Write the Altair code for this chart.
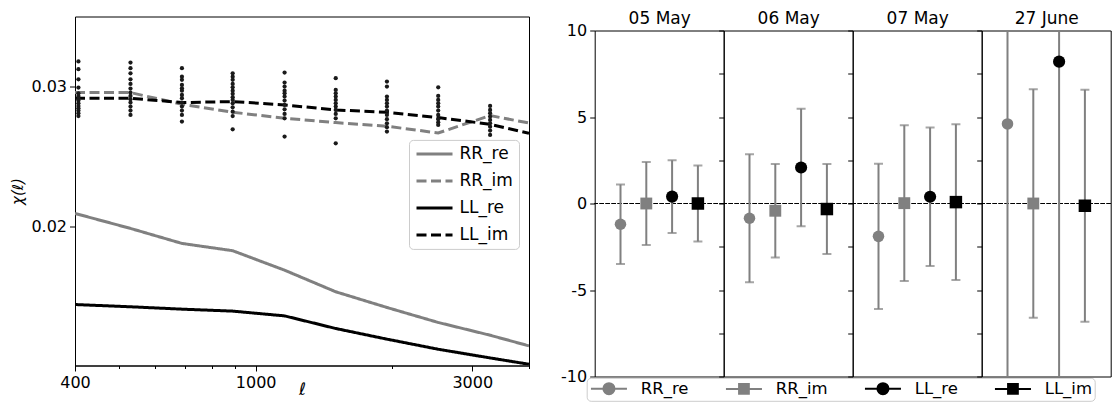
import altair as alt
import pandas as pd

FONT = "DejaVu Sans"

# ---------------- left panel data ----------------
series = ["RR_re", "RR_im", "LL_re", "LL_im"]
series_colors = ["#808080", "#808080", "#000000", "#000000"]

ell_line = [400, 530, 688, 890, 1158, 1501, 1946, 2524, 3284, 4000]
chi_rr_re = [0.02095, 0.01988, 0.01881, 0.01829, 0.01690, 0.01536, 0.01424, 0.01317, 0.01226, 0.01150]
chi_rr_im = [0.02957, 0.02957, 0.02874, 0.02817, 0.02774, 0.02743, 0.02717, 0.02669, 0.02793, 0.02740]
chi_ll_re = [0.01445, 0.01429, 0.01412, 0.01398, 0.01364, 0.01274, 0.01198, 0.01126, 0.01064, 0.01019]
chi_ll_im = [0.02917, 0.02917, 0.02886, 0.02893, 0.02869, 0.02833, 0.02817, 0.02779, 0.02731, 0.02667]

dot_ell = [407, 530, 688, 890, 1158, 1501, 1946, 2524, 3284]
dots_1 = [0.03179, 0.03124, 0.03052, 0.02993, 0.02952, 0.02933, 0.02917, 0.02900, 0.02881, 0.02862, 0.02845, 0.02829, 0.02810, 0.02790]
dots_2 = [0.03171, 0.03131, 0.03095, 0.03052, 0.03019, 0.02986, 0.02957, 0.02933, 0.02910, 0.02886, 0.02857, 0.02829, 0.02798]
dots_3 = [0.03131, 0.03071, 0.03048, 0.03012, 0.02988, 0.02971, 0.02940, 0.02917, 0.02886, 0.02857, 0.02829, 0.02798, 0.02750]
dots_4 = [0.03095, 0.03071, 0.03048, 0.03019, 0.02995, 0.02971, 0.02948, 0.02924, 0.02905, 0.02881, 0.02852, 0.02821, 0.02790, 0.02695]
dots_5 = [0.03100, 0.03029, 0.03000, 0.02971, 0.02952, 0.02929, 0.02900, 0.02869, 0.02838, 0.02805, 0.02774, 0.02643]
dots_6 = [0.03060, 0.02976, 0.02952, 0.02929, 0.02905, 0.02881, 0.02857, 0.02833, 0.02805, 0.02774, 0.02595]
dots_7 = [0.03036, 0.03000, 0.02929, 0.02905, 0.02881, 0.02857, 0.02829, 0.02798, 0.02767, 0.02738, 0.02710, 0.02679]
dots_8 = [0.02995, 0.02933, 0.02905, 0.02881, 0.02857, 0.02829, 0.02798, 0.02767, 0.02745, 0.02726]
dots_9 = [0.02862, 0.02833, 0.02810, 0.02786, 0.02762, 0.02738, 0.02714, 0.02686, 0.02655]
dot_columns = [dots_1, dots_2, dots_3, dots_4, dots_5, dots_6, dots_7, dots_8, dots_9]

# ---------------- right panel data ----------------
dates = ["05 May", "06 May", "07 May", "27 June"]
rr_re_val = [-1.2, -0.85, -1.9, 4.6]
rr_re_err = [2.3, 3.7, 4.2, 16.0]
rr_im_val = [0.0, -0.42, 0.02, 0.0]
rr_im_err = [2.4, 2.7, 4.5, 6.6]
ll_re_val = [0.4, 2.08, 0.39, 8.2]
ll_re_err = [2.1, 3.4, 4.0, 19.0]
ll_im_val = [0.0, -0.32, 0.08, -0.13]
ll_im_err = [2.2, 2.6, 4.5, 6.7]
series_pos = [1, 2, 3, 4]

# ---------------- tables ----------------
line_rows = []
for s, vals in zip(series, [chi_rr_re, chi_rr_im, chi_ll_re, chi_ll_im]):
    for l, v in zip(ell_line, vals):
        line_rows.append({"ell": l, "chi": v, "series": s})
line_df = pd.DataFrame(line_rows)

dot_rows = []
for l, col in zip(dot_ell, dot_columns):
    for v in col:
        dot_rows.append({"ell": l, "chi": v})
dot_df = pd.DataFrame(dot_rows)

panel_rows = []
for s, p, vals, errs in zip(series, series_pos,
                            [rr_re_val, rr_im_val, ll_re_val, ll_im_val],
                            [rr_re_err, rr_im_err, ll_re_err, ll_im_err]):
    for d, v, e in zip(dates, vals, errs):
        panel_rows.append({"date": d, "ser": s, "pos": p, "val": v, "lo": v - e, "hi": v + e})
panel_df = pd.DataFrame(panel_rows)

# ---------------- left chart ----------------
line_sym = "M-1,0L4.54,0"
left_legend = alt.Legend(
    orient="none", legendX=334, legendY=123.4, title=None,
    symbolType=line_sym, symbolSize=169, symbolStrokeWidth=3,
    labelFontSize=17, labelFont=FONT, labelOffset=28, rowPadding=9,
    padding=5.5, strokeColor="#cccccc", fillColor="white", cornerRadius=4,
)

xscale_l = alt.Scale(type="log", domain=[400, 4000], nice=False)
yscale_l = alt.Scale(domain=[0.0101, 0.035], nice=False, zero=False)

x_axis_l = alt.Axis(
    values=[400, 500, 600, 700, 800, 900, 1000, 2000, 3000, 4000],
    labelExpr="indexof([400, 1000, 3000], datum.value) >= 0 ? '' + datum.value : ''",
    tickSize={"condition": {"test": "indexof([400, 1000, 3000], datum.value) >= 0", "value": 5.5}, "value": 3},
    labelFlush=False, labelOverlap=False, labelPadding=3, grid=False,
    title="ℓ", titleFontStyle="italic", titleFontSize=17, titleFontWeight="normal",
    titleY=29, titleBaseline="alphabetic",
)
y_axis_l = alt.Axis(
    values=[0.02, 0.03], format=".2f", tickSize=5.5, labelPadding=3, grid=False,
    title="χ(ℓ)", titleFontStyle="italic", titleFontSize=15, titleFontWeight="normal", titlePadding=5,
)

lines = alt.Chart(line_df).mark_line(strokeWidth=3, clip=True).encode(
    x=alt.X("ell:Q", scale=xscale_l, axis=x_axis_l),
    y=alt.Y("chi:Q", scale=yscale_l, axis=y_axis_l),
    color=alt.Color("series:N", scale=alt.Scale(domain=series, range=series_colors), legend=left_legend),
    strokeDash=alt.StrokeDash("series:N", scale=alt.Scale(domain=series, range=[[1, 0], [10, 4.5], [1, 0], [10, 4.5]]), legend=left_legend),
    order=alt.Order("ell:Q"),
)
dots = alt.Chart(dot_df).mark_circle(size=18, color="#1a1a1a", opacity=1).encode(
    x=alt.X("ell:Q", scale=xscale_l, axis=x_axis_l),
    y=alt.Y("chi:Q", scale=yscale_l, axis=y_axis_l),
)
left = alt.layer(lines, dots).properties(width=454, height=349)

# ---------------- right panels ----------------
circ_path = "M-1,0L4.54,0M2.62,0A0.85,0.85,0,1,1,0.92,0A0.85,0.85,0,1,1,2.62,0Z"
sq_path = "M-1,0L4.54,0M1.02,-0.75L2.52,-0.75L2.52,0.75L1.02,0.75Z"

right_legend = alt.Legend(
    orient="none", legendX=-8, legendY=347.3, direction="horizontal", columns=4, title=None,
    symbolSize=169, symbolStrokeWidth=2, labelFontSize=16.5, labelFont=FONT,
    labelOffset=35, columnPadding=32, padding=2.5,
    strokeColor="#cccccc", fillColor="white", cornerRadius=4,
)

xscale_r = alt.Scale(domain=[0, 5], nice=False, zero=False)
yscale_r = alt.Scale(domain=[-10, 10], nice=False, zero=False)
PANEL_W = 129.0


def make_panel(i, date):
    sub = panel_df[panel_df["date"] == date]
    base = alt.Chart(sub)
    if i == 0:
        yaxis = alt.Axis(values=[-10, -5, 0, 5, 10], labelExpr="'' + datum.value", tickSize=5,
                         labelPadding=3, title=None, domain=False, grid=False)
    else:
        yaxis = alt.Axis(values=[-10, -7.5, -5, -2.5, 0, 2.5, 5, 7.5, 10], labels=False, tickSize=5,
                         title=None, domain=False, grid=False)
    xaxis = alt.Axis(orient="top", title=date, labels=False, ticks=False, domain=False, grid=False,
                     titleFontSize=17, titleFont=FONT, titleFontWeight="normal", titlePadding=3)
    xenc = alt.X("pos:Q", scale=xscale_r, axis=xaxis)
    zero = base.mark_rule(color="black", strokeDash=[4, 2], strokeWidth=1.2).encode(
        y=alt.Y(datum=0, scale=yscale_r, axis=yaxis)
    )
    bars = base.mark_rule(color="#808080", strokeWidth=2, clip=True).encode(
        x=xenc, y=alt.Y("lo:Q", scale=yscale_r, axis=yaxis), y2="hi:Q"
    )
    cap_hi = base.mark_tick(color="#808080", thickness=2, size=9, orient="horizontal", clip=True).encode(
        x=xenc, y=alt.Y("hi:Q", scale=yscale_r, axis=yaxis)
    )
    cap_lo = base.mark_tick(color="#808080", thickness=2, size=9, orient="horizontal", clip=True).encode(
        x=xenc, y=alt.Y("lo:Q", scale=yscale_r, axis=yaxis)
    )
    pts = base.mark_point(filled=True, opacity=1, strokeWidth=0).encode(
        x=xenc, y=alt.Y("val:Q", scale=yscale_r, axis=yaxis),
        color=alt.Color("ser:N", scale=alt.Scale(domain=series, range=series_colors), legend=None),
        shape=alt.Shape("ser:N", scale=alt.Scale(domain=series, range=["circle", "square", "circle", "square"]), legend=None),
        size=alt.Size("ser:O", scale=alt.Scale(domain=series, range=[133, 156, 133, 156]), legend=None),
    )
    layers = [zero, bars, cap_hi, cap_lo, pts]
    if i == 0:
        leg_df = pd.DataFrame({"lg": series})
        leg_layer = alt.Chart(leg_df).transform_filter("false").mark_point(
            filled=True, opacity=1, strokeWidth=2, size=169
        ).encode(
            fill=alt.Fill("lg:N", scale=alt.Scale(domain=series, range=series_colors), legend=right_legend),
            stroke=alt.Stroke("lg:N", scale=alt.Scale(domain=series, range=series_colors), legend=right_legend),
            shape=alt.Shape("lg:N", scale=alt.Scale(domain=series, range=[circ_path, sq_path, circ_path, sq_path]), legend=right_legend),
        )
        layers.append(leg_layer)
    return alt.layer(*layers).resolve_scale(
        color="independent", shape="independent", size="independent",
        fill="independent", stroke="independent",
    ).resolve_legend(
        color="independent", shape="independent", size="independent",
        fill="independent", stroke="independent",
    ).properties(width=PANEL_W, height=346)


panels = [make_panel(i, d) for i, d in enumerate(dates)]
inner = alt.hconcat(*panels, spacing=0, bounds="flush").resolve_scale(
    x="independent", y="independent", color="independent", shape="independent",
    size="independent", fill="independent", stroke="independent",
).resolve_legend(color="independent", shape="independent", fill="independent", stroke="independent", size="independent")

spacer = alt.Chart(pd.DataFrame({"a": [0]})).mark_point(opacity=0).encode(
    x=alt.X("a:Q", axis=None), y=alt.Y("a:Q", axis=None)
).properties(width=1, height=13.4, view=alt.ViewBackground(stroke="transparent"))

right = alt.vconcat(spacer, inner, spacing=0, bounds="flush").resolve_scale(
    x="independent", y="independent", color="independent", shape="independent",
    fill="independent", stroke="independent",
).resolve_legend(color="independent", shape="independent", fill="independent", stroke="independent")

chart = alt.hconcat(left, right, spacing=65.7, bounds="flush").resolve_scale(
    x="independent", y="independent", color="independent", shape="independent",
    fill="independent", stroke="independent", strokeDash="independent",
).resolve_legend(color="independent", shape="independent", fill="independent", stroke="independent",
                 strokeDash="independent").properties(
    padding={"left": 2, "top": 0.5, "right": 0, "bottom": 0},
    background="white",
).configure_view(stroke="black", strokeWidth=1).configure_axis(
    grid=False, labelFont=FONT, labelFontSize=16, labelColor="black",
    tickColor="black", domainColor="black", titleFont=FONT, titleColor="black",
).configure_title(font=FONT, color="black")

chart.save("out.html", embed_options={"renderer": "svg", "actions": False})
